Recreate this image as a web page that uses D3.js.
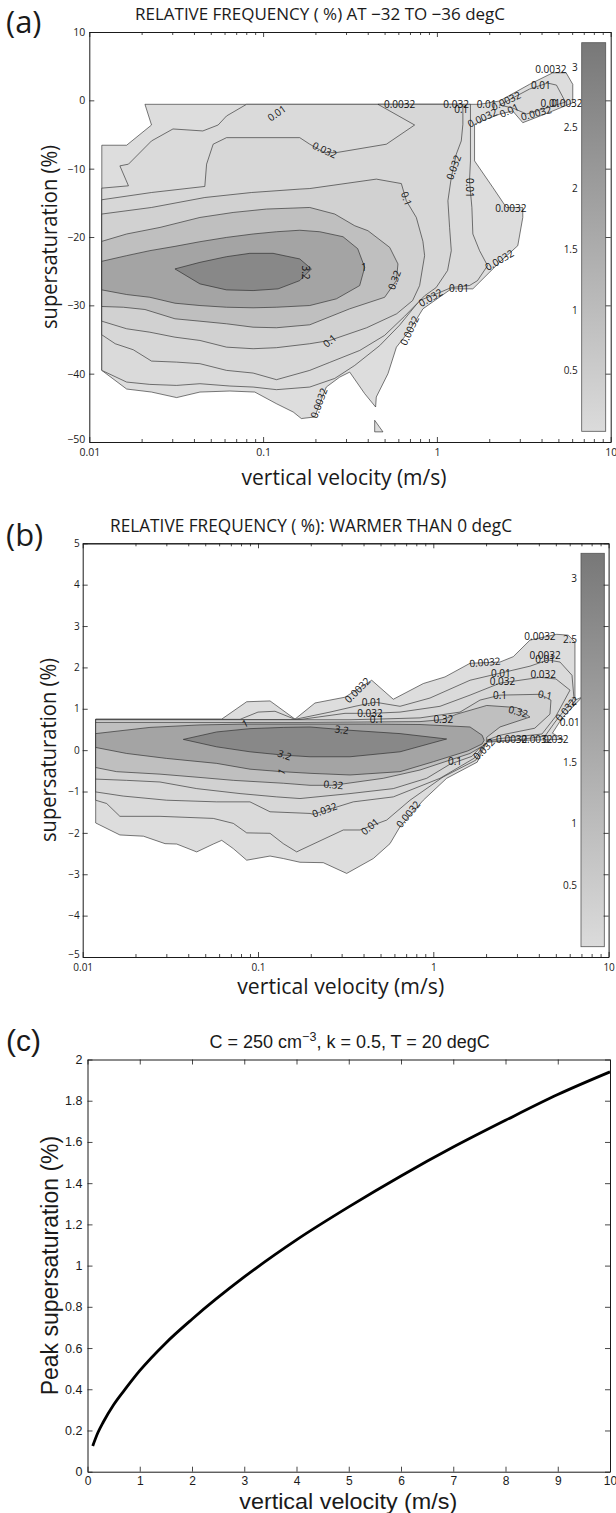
<!DOCTYPE html>
<html>
<head>
<meta charset="utf-8">
<script src="https://cdn.jsdelivr.net/npm/d3@7/dist/d3.min.js"></script>
<style>
  body { margin: 0; background: #fff; }
</style>
</head>
<body>
<script>
// contour levels shared by (a) and (b)
const levels = [0.0032, 0.01, 0.032, 0.1, 0.32, 1, 3.2];
const colorbarTicks = [0.5, 1, 1.5, 2, 2.5, 3];
const logTicks = [0.01, 0.1, 1, 10];

// ---- (a) -32 to -36 degC : points are [vertical velocity (m/s), supersaturation (%)]
const aTicksY = [-50, -40, -30, -20, -10, 0, 10];
const aLev0032 = [[0.0118,-6.57],[0.0164,-6.57],[0.0228,-3.61],[0.0209,-0.58],
  [1.76,-0.58],[2.29,-0.10],[3.41,2.34],[4.64,4.03],[5.54,4.03],[6.05,2.34],[6.05,-0.35],
  [4.64,-1.56],[3.12,-3.27],[2.73,-1.56],[2.29,-2.04],[1.92,-2.77],[1.647,-3.5],
  [1.647,-8.86],[2.10,-12.76],[2.51,-15.68],[3.12,-15.68],[3.12,-17.14],[2.92,-21.27],[2.29,-23.71],
  [1.61,-27.59],[1.21,-27.59],[0.831,-30.51],[0.697,-33.68],[0.585,-36.12],[0.523,-40.0],[0.448,-43.42],
  [0.444,-44.88],[0.384,-42.92],[0.315,-39.77],[0.276,-40.5],[0.231,-41.96],[0.198,-46.34],[0.166,-46.57],
  [0.149,-45.61],[0.119,-44.38],[0.0896,-42.69],[0.0644,-42.54],[0.0433,-42.69],[0.0318,-43.5],
  [0.0228,-42.69],[0.0164,-42.25],[0.0118,-39.52]];
const aLev0032Tri = [[0.4385,-46.82],[0.4385,-48.52],[0.4895,-48.52]];
const aLev001 = [[0.0118,-12.85],[0.0168,-12.51],[0.0150,-9.59],[0.0168,-9.34],[0.0228,-5.94],[0.0303,-4.19],
  [0.0450,-4.48],[0.0551,-3.61],[0.0616,-2.29],[0.0803,-0.58],
  [1.56,-0.58],[1.56,-3.5],[1.56,-8.86],[1.54,-11.78],[1.59,-15.68],[1.61,-19.56],[1.76,-22.0],
  [1.956,-24.19],[1.713,-26.38],[1.541,-27.1],[1.21,-27.4],[1.036,-28.13],[0.795,-29.3],[0.6105,-32.9],
  [0.4685,-35.9],[0.3365,-38.8],[0.2583,-40.7],[0.1855,-41.96],
  [0.1194,-42.34],[0.0876,-41.96],[0.0644,-41.81],[0.0433,-41.47],[0.0318,-41.72],[0.0223,-41.57],
  [0.0164,-41.23],[0.0118,-39.52]];
const aLev001Lobe = [[2.29,-0.69],[3.41,1.65],[4.33,2.53],[4.875,2.23],[5.49,-0.25],[4.27,-1.12],[3.28,-2.0],[2.73,-1.12]];
const aLev0032b = [[0.0118,-14.55],[0.0228,-13.49],[0.0462,-12.6],[0.0473,-9.34],[0.0516,-6.42],[0.0616,-5.46],
  [0.1625,-5.46],[0.1855,-6.42],[0.2262,-7.65],[0.2641,-7.65],[0.5121,-6.42],[0.7444,-3.61],[0.458,-0.58],
  [1.411,-0.58],[1.411,-3.5],[1.381,-5.94],[1.293,-7.88],[1.21,-11.30],[1.157,-14.70],[1.183,-18.60],
  [1.21,-22.0],[1.152,-24.9],[0.99,-27.4],[0.85,-28.6],[0.652,-31.6],[0.50,-34.4],[0.36,-36.6],
  [0.2417,-38.35],[0.1855,-39.52],[0.1194,-40.88],[0.0876,-39.91],[0.0616,-39.52],[0.0433,-38.54],
  [0.0318,-38.31],[0.0228,-38.16],[0.0179,-36.5],[0.0141,-35.62],[0.0118,-34.31]];
const aLev01 = [[0.0118,-16.64],[0.0228,-15.68],[0.0462,-14.22],[0.0858,-13.49],[0.1625,-12.99],[0.1855,-12.91],
  [0.4484,-11.53],[0.6244,-12.18],[0.667,-14.70],[0.7614,-17.14],[0.8309,-20.64],[0.8498,-22.73],
  [0.7954,-27.11],[0.725,-29.3],[0.5868,-31.24],[0.3945,-33.28],[0.2417,-35.14],[0.1855,-35.62],
  [0.1194,-36.2],[0.0876,-36.35],[0.0616,-36.12],[0.0433,-35.14],[0.0311,-34.66],[0.0223,-33.93],
  [0.0164,-33.43],[0.0118,-32.32]];
const aLev032 = [[0.0118,-20.64],[0.0164,-19.56],[0.0255,-18.6],[0.0433,-17.14],[0.0672,-16.41],[0.1046,-15.91],
  [0.1855,-15.68],[0.2583,-16.64],[0.3365,-18.35],[0.4012,-19.08],[0.535,-21.52],[0.597,-23.94],
  [0.5845,-26.38],[0.5006,-28.82],[0.315,-30.51],[0.1855,-32.85],[0.1194,-33.28],[0.0876,-33.2],
  [0.0616,-32.7],[0.0433,-32.32],[0.0311,-31.97],[0.0209,-30.61],[0.0157,-30.28],[0.0118,-30.17]];
const aLev1 = [[0.0118,-23.56],[0.0164,-22.73],[0.0223,-22.0],[0.0311,-21.37],[0.0433,-20.69],[0.0616,-20.06],
  [0.0876,-19.56],[0.1194,-19.23],[0.1625,-19.01],[0.2118,-19.23],[0.2883,-19.96],[0.3502,-21.71],
  [0.3842,-24.44],[0.3595,-27.11],[0.2641,-29.05],[0.1855,-30.03],[0.1194,-30.28],[0.0876,-30.36],
  [0.0616,-30.28],[0.0433,-30.03],[0.0311,-29.69],[0.0223,-28.82],[0.0164,-28.42],[0.0118,-27.74]];
const aLev32 = [[0.0311,-24.67],[0.0433,-23.71],[0.0616,-22.88],[0.0839,-22.39],[0.1141,-22.39],[0.1625,-23.21],
  [0.1897,-24.67],[0.1625,-26.38],[0.122,-27.59],[0.0876,-27.84],[0.0616,-27.74],[0.0433,-26.86]];
const aLabels = [
  ['0.01',0.12,-1.9,-35],['0.032',0.226,-7.3,25],['0.0032',0.61,-0.6,0],['0.032',1.29,-0.6,0],
  ['0.1',1.38,-1.3,0],['0.0032',1.83,-2.6,-25],['0.01',1.93,-0.6,0],['0.0032',2.5,-0.1,-25],
  ['0.01',2.61,-1.5,-25],['0.0032',3.73,-1.9,-15],['0.01',3.96,2.1,0],['0.0032',4.52,4.5,0],
  ['0.01',4.5,-0.5,0],['0.0032',5.6,-0.5,0],['0.032',1.25,-9.8,-70],['0.01',1.55,-12.8,90],
  ['0.1',0.667,-14.4,70],['0.0032',2.66,-15.9,0],['0.0032',2.29,-23.4,-30],['0.01',1.34,-27.6,0],
  ['0.032',0.92,-28.9,-30],['0.32',0.57,-26.3,-70],['1',0.38,-24.4,0],['3.2',0.176,-25.2,90],
  ['0.1',0.242,-35.2,-40],['0.0032',0.697,-33.7,-65],['0.0032',0.21,-44.3,-70]];

// ---- (b) warmer than 0 degC
const bTicksY = [-5, -4, -3, -2, -1, 0, 1, 2, 3, 4, 5];
const bLev0032 = [[0.01186,0.75],[0.0621,0.75],[0.0862,1.17],[0.1171,1.19],[0.1626,0.75],[0.2114,1.14],
  [0.3136,1.28],[0.4454,1.69],[0.5913,1.23],[0.877,1.61],[1.166,1.77],[1.62,2.10],[2.402,2.13],
  [2.86,2.26],[3.561,2.66],[5.058,2.80],[5.89,2.78],[6.429,2.61],[6.429,1.21],[7.052,1.28],
  [5.42,0.77],[4.78,0.41],[5.516,0.26],[3.123,0.235],[2.017,0.19],[1.78,-0.29],[1.192,-0.68],
  [0.877,-1.21],[0.6459,-1.85],[0.5662,-2.26],[0.4548,-2.62],[0.3206,-2.98],[0.2358,-2.72],[0.1736,-2.71],
  [0.1394,-2.62],[0.1171,-2.56],[0.0862,-2.66],[0.0723,-2.38],[0.0621,-2.18],[0.0556,-2.27],[0.0447,-2.46],
  [0.0344,-2.27],[0.0295,-2.26],[0.0222,-2.08],[0.0163,-2.05],[0.01186,-1.76]];
const bLev001 = [[0.01186,0.745],[0.079,0.745],[0.1,0.92],[0.125,0.94],[0.1626,0.745],[0.2575,0.92],
  [0.3575,1.06],[0.4651,1.16],[0.6459,1.06],[0.9577,1.26],[1.62,1.69],[2.402,1.86],[3.561,2.03],
  [4.511,2.18],[5.282,2.13],[6.183,1.81],[6.345,1.26],[4.95,0.68],[4.337,0.34],[3.123,0.255],
  [2.017,0.21],[1.75,-0.24],[1.136,-0.65],[0.7366,-1.21],[0.5423,-1.69],[0.3817,-1.93],[0.3066,-1.93],
  [0.1736,-2.42],[0.1663,-2.46],[0.1394,-2.26],[0.1171,-2.01],[0.0862,-2.0],[0.0723,-1.77],[0.0556,-1.65],
  [0.0276,-1.60],[0.0163,-1.60],[0.0137,-1.29],[0.01186,-1.21]];
const bLev0032b = [[0.01186,0.74],[0.1736,0.74],[0.3136,0.89],[0.447,0.89],[0.6459,0.92],[1.092,1.06],
  [1.62,1.33],[2.402,1.62],[4.061,1.76],[5.012,1.72],[6.023,1.45],[5.0,0.82],[4.17,0.39],[2.402,0.28],
  [2.017,0.22],[1.72,-0.19],[1.092,-0.68],[0.5913,-1.13],[0.3496,-1.25],[0.2068,-1.55],[0.1981,-1.53],
  [0.1171,-1.49],[0.09,-1.25],[0.0581,-1.25],[0.0301,-1.21],[0.017,-1.11],[0.01186,-1.01]];
const bLev01 = [[0.01186,0.735],[0.3348,0.735],[0.4755,0.75],[0.84,0.78],[1.42,0.92],[1.847,1.21],
  [2.402,1.33],[4.061,1.35],[4.69,1.21],[4.63,0.87],[3.79,0.53],[2.402,0.36],[2.017,0.24],[1.66,-0.15],
  [1.245,-0.34],[0.9173,-0.68],[0.5913,-0.93],[0.3348,-1.05],[0.1736,-1.17],[0.1279,-1.13],[0.079,-1.05],
  [0.0447,-0.93],[0.0276,-0.77],[0.0178,-0.73],[0.01186,-0.70]];
const bLev032 = [[0.01186,0.67],[0.1736,0.67],[0.84,0.69],[1.136,0.74],[1.36,0.87],[2.017,1.08],[2.991,1.03],
  [3.561,0.80],[2.402,0.56],[2.017,0.31],[2.017,0.16],[1.62,-0.08],[1.245,-0.24],[0.84,-0.48],
  [0.5186,-0.68],[0.2689,-0.85],[0.1981,-0.85],[0.1394,-0.80],[0.0723,-0.73],[0.0467,-0.66],
  [0.0276,-0.58],[0.0156,-0.52],[0.01186,-0.42]];
const bLev1 = [[0.01186,0.40],[0.0242,0.55],[0.0467,0.61],[0.0843,0.63],[0.1736,0.63],[0.4169,0.63],
  [0.84,0.62],[1.62,0.56],[1.90,0.36],[1.95,0.24],[1.90,0.15],[1.57,-0.02],[1.0,-0.28],[0.6459,-0.52],
  [0.3348,-0.60],[0.1981,-0.56],[0.1365,-0.52],[0.09,-0.46],[0.0581,-0.32],[0.0301,-0.20],
  [0.0178,-0.08],[0.01186,0.065]];
const bLev32 = [[0.0375,0.26],[0.0581,0.44],[0.09,0.52],[0.1394,0.55],[0.1981,0.56],[0.3348,0.48],
  [0.6459,0.40],[1.192,0.27],[0.6459,-0.04],[0.3348,-0.16],[0.1981,-0.16],[0.1394,-0.12],[0.09,-0.04],
  [0.0581,0.08]];
const bLabels = [
  ['1',0.0843,0.64,-25],['3.2',0.1417,-0.12,20],['1',0.1365,-0.52,-60],['3.2',0.30,0.49,8],
  ['0.32',0.2689,-0.84,5],['0.032',0.24,-1.45,-20],['0.01',0.4355,-1.85,-40],['0.0032',0.72,-1.55,-50],
  ['0.1',1.33,-0.28,0],['0.32',1.14,0.74,0],['0.32',3.05,0.93,15],['0.1',2.40,1.33,0],['0.1',4.34,1.33,10],
  ['0.01',2.43,1.86,0],['0.032',2.48,1.66,0],['0.032',4.24,1.82,0],['0.0032',1.97,2.12,-5],
  ['0.0032',4.06,2.74,0],['0.0032',4.34,2.28,0],['0.01',4.34,2.18,0],['0.032',5.7,0.97,-50],
  ['0.01',6.0,0.68,0],['0.0032',0.37,1.45,-45],['0.01',0.445,1.14,0],['0.032',0.4355,0.89,0],
  ['0.1',0.4755,0.75,0],['0.032',1.95,0.02,-45],['0.0032',2.8,0.26,0],['0.0032',3.9,0.26,0],['0.032',5.0,0.26,0]];

// ---- (c) peak supersaturation, C = 250 cm-3, k = 0.5, T = 20 degC
const cVelocity = [0.1, 0.2, 0.3, 0.5, 0.75, 1, 1.5, 2, 3, 4, 5, 6, 7, 8, 9, 10];
const cPeak = [0.125, 0.19, 0.24, 0.325, 0.41, 0.49, 0.625, 0.74, 0.945, 1.125, 1.285, 1.435, 1.575, 1.705, 1.83, 1.94];
const cTicksX = [0, 1, 2, 3, 4, 5, 6, 7, 8, 9, 10];
const cTicksY = [0, 0.2, 0.4, 0.6, 0.8, 1, 1.2, 1.4, 1.6, 1.8, 2];

const levelFill = ['#dddddd', '#dadada', '#d7d7d7', '#d1d1d1', '#bfbfbf', '#a4a4a4', '#888888'];
const sans = '"Open Sans", "DejaVu Sans", sans-serif';
const helv = '"Liberation Sans", Arial, sans-serif';
const ink = '#1a1a1a';

const svg = d3.select('body').append('svg')
  .attr('width', 616).attr('height', 1513).style('display', 'block');

const grad = svg.append('defs').append('linearGradient')
  .attr('id', 'cbar').attr('x1', 0).attr('y1', 1).attr('x2', 0).attr('y2', 0);
grad.append('stop').attr('offset', '0%').attr('stop-color', '#dbdbdb');
grad.append('stop').attr('offset', '100%').attr('stop-color', '#787878');

function styleAxis(g, font, size) {
  g.attr('font-family', font).attr('font-size', size);
  g.selectAll('path.domain').attr('stroke', ink).attr('stroke-width', 1);
  g.selectAll('.tick line').attr('stroke', ink).attr('stroke-width', 0.8);
  g.selectAll('.tick text').attr('fill', ink);
}

function addText(x, y, str, font, size, opts = {}) {
  const t = svg.append('text').attr('x', x).attr('y', y)
    .attr('font-family', font).attr('font-size', size).attr('fill', ink)
    .attr('text-anchor', opts.anchor || 'start').text(str);
  if (opts.rotate) t.attr('transform', `rotate(${opts.rotate},${x},${y})`);
  if (opts.len) t.attr('textLength', opts.len).attr('lengthAdjust', 'spacingAndGlyphs');
  return t;
}

function contourPanel(p) {
  const x = d3.scaleLog().domain([0.01, 10]).range([p.left, p.right]);
  const y = d3.scaleLinear().domain(d3.extent(p.yTicks)).range([p.bottom, p.top]);
  const line = d3.line().x(d => x(d[0])).y(d => y(d[1]));
  const g = svg.append('g');

  g.append('g').selectAll('path').data(p.shapes).join('path')
    .attr('d', d => line(d.pts) + 'Z')
    .attr('fill', d => levelFill[levels.indexOf(d.level)])
    .attr('stroke', '#222').attr('stroke-width', 0.6).attr('stroke-linejoin', 'round');

  // clabel-style numbers sitting on the lines
  g.append('g').selectAll('text').data(p.labels).join('text')
    .attr('transform', d => `translate(${x(d[1])},${y(d[2])}) rotate(${d[3]})`)
    .attr('text-anchor', 'middle').attr('dy', '0.35em')
    .attr('font-family', sans).attr('font-size', 10).attr('fill', '#111')
    .text(d => d[0]);

  // colorbar
  const cb = d3.scaleLinear().domain([0, 3.2]).range([p.cbBottom, p.cbTop]);
  g.append('rect').attr('x', p.cbLeft).attr('y', cb(3.2))
    .attr('width', p.cbWidth).attr('height', cb(0) - cb(3.2))
    .attr('fill', 'url(#cbar)').attr('stroke', '#555').attr('stroke-width', 0.8);
  g.append('g').attr('transform', `translate(${p.cbLeft},0)`)
    .call(d3.axisLeft(cb).tickValues(colorbarTicks).tickSize(0).tickPadding(4).tickFormat(d3.format('~g')))
    .call(a => a.select('.domain').remove())
    .call(a => styleAxis(a, sans, 10));

  // box axes, ticks pointing in
  const minor = x.ticks().filter(v => !logTicks.includes(v));
  const fmt = d3.format('~g');
  const yMin = d3.min(p.yTicks);
  g.append('g').attr('transform', `translate(0,${p.bottom})`)
    .call(d3.axisBottom(x).tickValues(logTicks).tickSize(-5).tickSizeOuter(0).tickPadding(p.xPad).tickFormat(fmt))
    .call(a => styleAxis(a, sans, p.tickFont));
  g.append('g').attr('transform', `translate(0,${p.bottom})`)
    .call(d3.axisBottom(x).tickValues(minor).tickSize(-3).tickSizeOuter(0).tickFormat(''))
    .call(a => styleAxis(a, sans, p.tickFont));
  g.append('g').attr('transform', `translate(0,${p.top})`)
    .call(d3.axisTop(x).tickValues(logTicks).tickSize(-5).tickSizeOuter(0).tickFormat(''))
    .call(a => styleAxis(a, sans, p.tickFont));
  g.append('g').attr('transform', `translate(0,${p.top})`)
    .call(d3.axisTop(x).tickValues(minor).tickSize(-3).tickSizeOuter(0).tickFormat(''))
    .call(a => styleAxis(a, sans, p.tickFont));
  g.append('g').attr('transform', `translate(${p.left},0)`)
    .call(d3.axisLeft(y).tickValues(p.yTicks).tickSize(-5).tickSizeOuter(0).tickPadding(p.yPad).tickFormat(fmt))
    .call(a => styleAxis(a, sans, p.tickFont))
    // lowest label sits a little above its tick, clear of the x labels
    .call(a => a.selectAll('.tick text').filter(d => d === yMin).attr('dy', '0em'));
  g.append('g').attr('transform', `translate(${p.right},0)`)
    .call(d3.axisRight(y).tickValues(p.yTicks).tickSize(-5).tickSizeOuter(0).tickFormat(''))
    .call(a => styleAxis(a, sans, p.tickFont));
}

// (a)
contourPanel({
  left: 89.3, right: 610.7, top: 32, bottom: 442, yTicks: aTicksY,
  cbLeft: 581.7, cbWidth: 24, cbTop: 42.7, cbBottom: 431.3,
  tickFont: 10.5, xPad: 7, yPad: 4,
  shapes: [
    { level: 0.0032, pts: aLev0032 }, { level: 0.0032, pts: aLev0032Tri },
    { level: 0.01, pts: aLev001 }, { level: 0.01, pts: aLev001Lobe },
    { level: 0.032, pts: aLev0032b }, { level: 0.1, pts: aLev01 },
    { level: 0.32, pts: aLev032 }, { level: 1, pts: aLev1 }, { level: 3.2, pts: aLev32 }
  ],
  labels: aLabels
});
addText(6, 33, '(a)', sans, 31);
addText(135, 20, 'RELATIVE FREQUENCY ( %) AT \u221232 TO \u221236 degC', sans, 16.5, { len: 370 });
addText(57, 237, 'supersaturation (%)', sans, 21, { anchor: 'middle', rotate: -90, len: 184 });
addText(344, 485, 'vertical velocity (m/s)', sans, 21, { anchor: 'middle', len: 205 });

// (b)
contourPanel({
  left: 82.7, right: 608.6, top: 543.3, bottom: 957, yTicks: bTicksY,
  cbLeft: 581, cbWidth: 23.3, cbTop: 553.3, cbBottom: 946.7,
  tickFont: 10, xPad: 7, yPad: 3,
  shapes: [
    { level: 0.0032, pts: bLev0032 }, { level: 0.01, pts: bLev001 },
    { level: 0.032, pts: bLev0032b }, { level: 0.1, pts: bLev01 },
    { level: 0.32, pts: bLev032 }, { level: 1, pts: bLev1 }, { level: 3.2, pts: bLev32 }
  ],
  labels: bLabels
});
addText(6, 546, '(b)', sans, 31);
addText(110, 531.7, 'RELATIVE FREQUENCY ( %):  WARMER THAN 0 degC', sans, 17.5, { len: 402 });
addText(56, 750, 'supersaturation (%)', sans, 21, { anchor: 'middle', rotate: -90, len: 184 });
addText(340.7, 994, 'vertical velocity (m/s)', sans, 21, { anchor: 'middle', len: 207 });

// (c)
{
  const left = 87.5, right = 610, top = 1059.5, bottom = 1471.7;
  const x = d3.scaleLinear().domain([0, 10]).range([left, right]);
  const y = d3.scaleLinear().domain([0, 2]).range([bottom, top]);
  const g = svg.append('g');
  const fmt = d3.format('~g');

  g.append('path').datum(d3.zip(cVelocity, cPeak))
    .attr('d', d3.line().x(d => x(d[0])).y(d => y(d[1])).curve(d3.curveMonotoneX))
    .attr('fill', 'none').attr('stroke', '#000').attr('stroke-width', 2.8);

  g.append('g').attr('transform', `translate(0,${bottom})`)
    .call(d3.axisBottom(x).tickValues(cTicksX).tickSize(-5).tickSizeOuter(0).tickPadding(4.5).tickFormat(fmt))
    .call(a => styleAxis(a, helv, 12));
  g.append('g').attr('transform', `translate(0,${top})`)
    .call(d3.axisTop(x).tickValues(cTicksX).tickSize(-5).tickSizeOuter(0).tickFormat(''))
    .call(a => styleAxis(a, helv, 12));
  g.append('g').attr('transform', `translate(${left},0)`)
    .call(d3.axisLeft(y).tickValues(cTicksY).tickSize(-5).tickSizeOuter(0).tickPadding(5).tickFormat(fmt))
    .call(a => styleAxis(a, helv, 12.5));
  g.append('g').attr('transform', `translate(${right},0)`)
    .call(d3.axisRight(y).tickValues(cTicksY).tickSize(-5).tickSizeOuter(0).tickFormat(''))
    .call(a => styleAxis(a, helv, 12.5));

  addText(6, 1051, '(c)', helv, 30);
  const t = addText(349.7, 1048, 'C = 250 cm', helv, 18, { anchor: 'middle' });
  t.append('tspan').attr('dy', -7).attr('font-size', 12.5).text('\u22123');
  t.append('tspan').attr('dy', 7).text(', k = 0.5, T = 20 degC');
  addText(58, (top + bottom) / 2, 'Peak supersaturation (%)', helv, 23, { anchor: 'middle', rotate: -90 });
  addText((left + right) / 2 - 0.5, 1509, 'vertical velocity (m/s)', helv, 21.5, { anchor: 'middle', len: 218 });
}
</script>
</body>
</html>
